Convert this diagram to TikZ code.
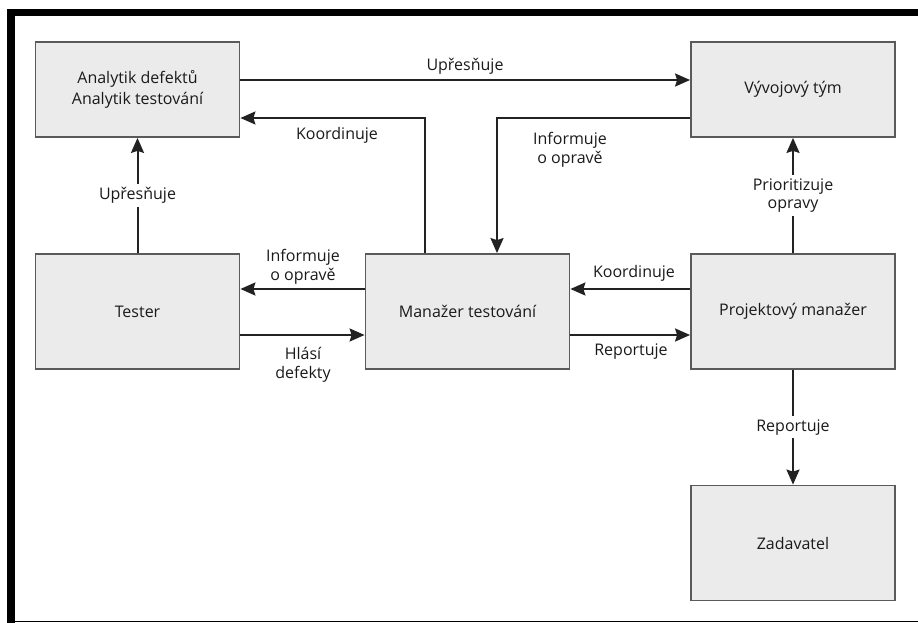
\documentclass[tikz,border=0pt]{standalone}
\usepackage{fontspec}
\setmainfont{Open Sans}
\usetikzlibrary{arrows.meta,calc}
\definecolor{boxfill}{HTML}{EBEBEB}
\definecolor{boxline}{HTML}{5A5A5A}
\definecolor{arrline}{HTML}{222222}
\definecolor{txt}{HTML}{1A1A1A}
\tikzset{
  rolebox/.style={draw=boxline, line width=1.8pt, fill=boxfill, text=txt,
    minimum width=204pt, align=center, inner sep=0pt,
    font=\fontsize{16}{21}\selectfont},
  flow/.style={draw=arrline, line width=2pt,
    -{Stealth[length=15pt,width=13pt,inset=2pt]}},
  lbl/.style={text=txt, align=center, inner sep=1pt,
    font=\fontsize{16}{18.5}\selectfont},
  gaplbl/.style={lbl, fill=white, inner sep=3pt}
}
\begin{document}
\begin{tikzpicture}[x=1pt,y=-1pt]
  \useasboundingbox (0,0) rectangle (918,623);
  % page frame
  \fill[black] (7,9) rectangle (918,16.5);
  \fill[black] (7,9) rectangle (14.5,623);
  \draw[black, line width=1.2pt] (14,621.6) -- (918,621.6);

  % roles
  \node[rolebox, minimum height=95pt]  (ana)  at (137.5,89.5) {Analytik defektů\\Analytik testování};
  \node[rolebox, minimum height=95pt]  (vyv)  at (793,89.5)   {Vývojový tým};
  \node[rolebox, minimum height=115pt] (tes)  at (137.5,311.5) {Tester};
  \node[rolebox, minimum height=115pt] (man)  at (467.5,311.5) {Manažer testování};
  \node[rolebox, minimum height=115pt] (proj) at (793,311.5)   {Projektový manažer};
  \node[rolebox, minimum height=115pt] (zad)  at (793,543)     {Zadavatel};

  % top row
  \draw[flow] (ana.east |- 0,80) -- (vyv.west |- 0,80);
  \node[lbl] (l1) at (465,66) {Upřesňuje};

  \draw[flow] (vyv.west |- 0,118) -| ($(man.north)+(29.5,0)$);
  \node[lbl, align=center] (l2) at (570,150) {Informuje\\o opravě};

  \draw[flow] ($(man.north)+(-42.5,0)$) |- (ana.east |- 0,118);
  \node[lbl] (l3) at (337,135) {Koordinuje};

  % verticals
  \draw[flow] (tes.north) -- (ana.south)
    node[gaplbl, pos=0.5] (l4) {Upřesňuje};
  \draw[flow] (proj.north) -- (vyv.south)
    node[gaplbl, pos=0.5] (l5) {Prioritizuje\\opravy};
  \draw[flow] (proj.south) -- (zad.north)
    node[gaplbl, pos=0.5] (l6) {Reportuje};

  % middle row
  \draw[flow] (man.west |- 0,289) -- (tes.east |- 0,289);
  \node[lbl] (l7) at (303,267) {Informuje\\o opravě};
  \draw[flow] (tes.east |- 0,335) -- (man.west |- 0,335);
  \node[lbl] (l8) at (303,365) {Hlásí\\defekty};

  \draw[flow] (proj.west |- 0,289) -- (man.east |- 0,289);
  \node[lbl] (l9) at (634,273) {Koordinuje};
  \draw[flow] (man.east |- 0,335) -- (proj.west |- 0,335);
  \node[lbl] (l10) at (631,352) {Reportuje};
\end{tikzpicture}
\end{document}
